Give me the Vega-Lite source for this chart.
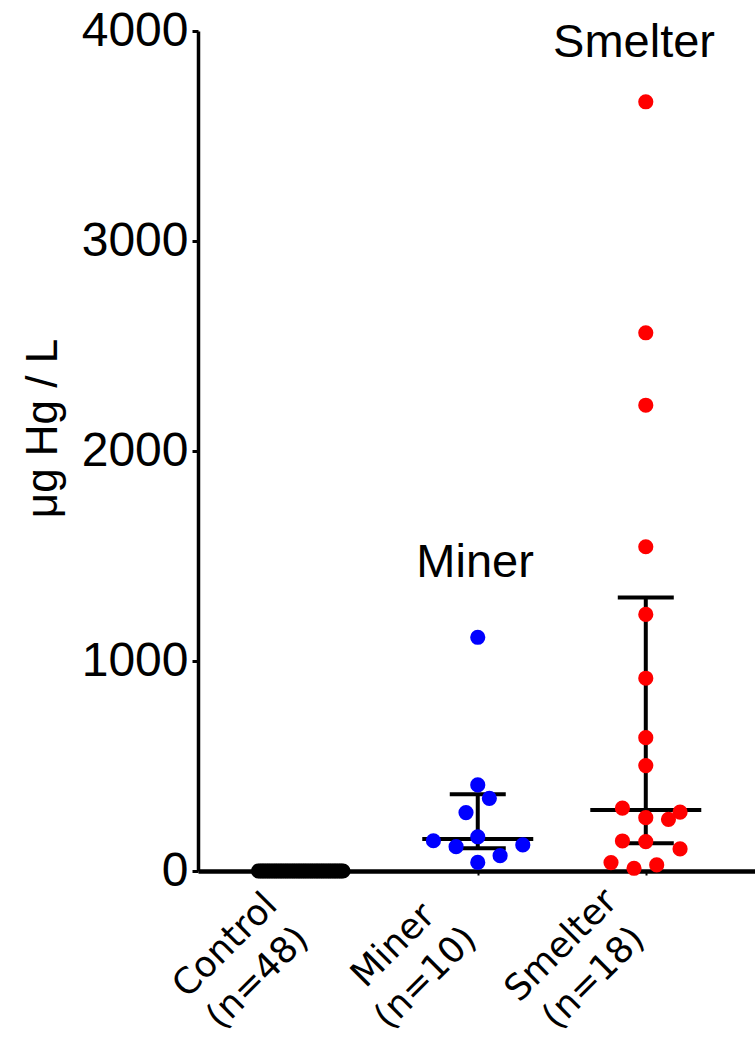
{
  "$schema": "https://vega.github.io/schema/vega-lite/v6.json",
  "autosize": "none",
  "width": 557,
  "height": 840,
  "padding": {"left": 198, "top": 31, "right": 0, "bottom": 170},
  "background": "white",
  "config": {"view": {"stroke": null}},
  "datasets": {
    "points": [
      {"group": "Control", "x": 0.695, "value": 0}, {"group": "Control", "x": 0.706, "value": 0}, {"group": "Control", "x": 0.717, "value": 0}, {"group": "Control", "x": 0.727, "value": 0}, {"group": "Control", "x": 0.738, "value": 0}, {"group": "Control", "x": 0.749, "value": 0}, {"group": "Control", "x": 0.759, "value": 0}, {"group": "Control", "x": 0.770, "value": 0}, {"group": "Control", "x": 0.781, "value": 0}, {"group": "Control", "x": 0.792, "value": 0},
      {"group": "Control", "x": 0.802, "value": 0}, {"group": "Control", "x": 0.813, "value": 0}, {"group": "Control", "x": 0.824, "value": 0}, {"group": "Control", "x": 0.834, "value": 0}, {"group": "Control", "x": 0.845, "value": 0}, {"group": "Control", "x": 0.856, "value": 0}, {"group": "Control", "x": 0.866, "value": 0}, {"group": "Control", "x": 0.877, "value": 0}, {"group": "Control", "x": 0.888, "value": 0}, {"group": "Control", "x": 0.899, "value": 0},
      {"group": "Control", "x": 0.909, "value": 0}, {"group": "Control", "x": 0.920, "value": 0}, {"group": "Control", "x": 0.931, "value": 0}, {"group": "Control", "x": 0.941, "value": 0}, {"group": "Control", "x": 0.952, "value": 0}, {"group": "Control", "x": 0.963, "value": 0}, {"group": "Control", "x": 0.973, "value": 0}, {"group": "Control", "x": 0.984, "value": 0}, {"group": "Control", "x": 0.995, "value": 0}, {"group": "Control", "x": 1.006, "value": 0},
      {"group": "Control", "x": 1.016, "value": 0}, {"group": "Control", "x": 1.027, "value": 0}, {"group": "Control", "x": 1.038, "value": 0}, {"group": "Control", "x": 1.048, "value": 0}, {"group": "Control", "x": 1.059, "value": 0}, {"group": "Control", "x": 1.070, "value": 0}, {"group": "Control", "x": 1.080, "value": 0}, {"group": "Control", "x": 1.091, "value": 0}, {"group": "Control", "x": 1.102, "value": 0}, {"group": "Control", "x": 1.113, "value": 0},
      {"group": "Control", "x": 1.123, "value": 0}, {"group": "Control", "x": 1.134, "value": 0}, {"group": "Control", "x": 1.145, "value": 0}, {"group": "Control", "x": 1.155, "value": 0}, {"group": "Control", "x": 1.166, "value": 0}, {"group": "Control", "x": 1.177, "value": 0}, {"group": "Control", "x": 1.187, "value": 0}, {"group": "Control", "x": 1.198, "value": 0},
      {"group": "Miner", "x": 2.000, "value": 1113}, {"group": "Miner", "x": 2.000, "value": 410}, {"group": "Miner", "x": 2.069, "value": 346}, {"group": "Miner", "x": 1.930, "value": 278}, {"group": "Miner", "x": 2.000, "value": 163},
      {"group": "Miner", "x": 1.736, "value": 144}, {"group": "Miner", "x": 1.871, "value": 116}, {"group": "Miner", "x": 2.268, "value": 124}, {"group": "Miner", "x": 2.133, "value": 73}, {"group": "Miner", "x": 2.000, "value": 41},
      {"group": "Smelter", "x": 3.000, "value": 3663}, {"group": "Smelter", "x": 3.000, "value": 2563}, {"group": "Smelter", "x": 3.000, "value": 2218}, {"group": "Smelter", "x": 3.000, "value": 1544}, {"group": "Smelter", "x": 3.000, "value": 1222}, {"group": "Smelter", "x": 3.000, "value": 918},
      {"group": "Smelter", "x": 3.000, "value": 635}, {"group": "Smelter", "x": 3.000, "value": 502}, {"group": "Smelter", "x": 2.861, "value": 299}, {"group": "Smelter", "x": 3.204, "value": 280}, {"group": "Smelter", "x": 3.000, "value": 254}, {"group": "Smelter", "x": 3.135, "value": 246},
      {"group": "Smelter", "x": 2.861, "value": 143}, {"group": "Smelter", "x": 3.000, "value": 140}, {"group": "Smelter", "x": 3.204, "value": 105}, {"group": "Smelter", "x": 2.793, "value": 40}, {"group": "Smelter", "x": 2.930, "value": 13}, {"group": "Smelter", "x": 3.065, "value": 29}
    ],
    "summary": [
      {"group": "Miner", "x": 2, "q1": 108, "median": 152, "q3": 365},
      {"group": "Smelter", "x": 3, "q1": 132, "median": 290, "q3": 1302}
    ],
    "notes": [
      {"label": "Miner", "x": 1.984, "y": 1400},
      {"label": "Smelter", "x": 2.93, "y": 3876}
    ]
  },
  "encoding": {
    "x": {
      "type": "quantitative",
      "scale": {"domain": [0.335, 3.65], "nice": false, "zero": false},
      "axis": {
        "title": null,
        "values": [1, 2, 3],
        "grid": false,
        "domainColor": "black",
        "domainWidth": 4.5,
        "tickColor": "black",
        "tickSize": 4,
        "tickWidth": 2,
        "labelExpr": "datum.value == 1 ? ['Control', '(n=48)'] : datum.value == 2 ? ['Miner', '(n=10)'] : ['Smelter', '(n=18)']",
        "labelFont": "DejaVu Sans",
        "labelFontSize": 36,
        "labelColor": "black",
        "labelAngle": -45,
        "labelAlign": "center",
        "labelBaseline": "middle",
        "labelOffset": -85,
        "labelPadding": 70,
        "labelLineHeight": 46,
        "labelOverlap": false,
        "labelBound": false,
        "labelFlush": false
      }
    },
    "y": {
      "type": "quantitative",
      "scale": {"domain": [0, 4000], "nice": false},
      "axis": {
        "title": "μg Hg / L",
        "titleFont": "Liberation Sans",
        "titleFontSize": 44,
        "titleFontWeight": "normal",
        "titleColor": "black",
        "titlePadding": 16,
        "titleY": 397,
        "values": [0, 1000, 2000, 3000, 4000],
        "format": "d",
        "grid": false,
        "domainColor": "black",
        "domainWidth": 3.5,
        "tickColor": "black",
        "tickSize": 6,
        "tickWidth": 3,
        "labelFont": "Liberation Sans",
        "labelFontSize": 48,
        "labelColor": "black",
        "labelPadding": 4,
        "labelBound": false,
        "labelFlush": false,
        "labelOverlap": false
      }
    }
  },
  "layer": [
    {
      "data": {"name": "summary"},
      "mark": {"type": "rule", "color": "black", "strokeWidth": 4},
      "encoding": {"x": {"field": "x"}, "y": {"field": "q1"}, "y2": {"field": "q3"}}
    },
    {
      "data": {"name": "summary"},
      "mark": {"type": "tick", "orient": "horizontal", "color": "black", "size": 111, "thickness": 4, "opacity": 1},
      "encoding": {"x": {"field": "x"}, "y": {"field": "median"}}
    },
    {
      "data": {"name": "summary"},
      "mark": {"type": "tick", "orient": "horizontal", "color": "black", "size": 56, "thickness": 4, "opacity": 1},
      "encoding": {"x": {"field": "x"}, "y": {"field": "q1"}}
    },
    {
      "data": {"name": "summary"},
      "mark": {"type": "tick", "orient": "horizontal", "color": "black", "size": 56, "thickness": 4, "opacity": 1},
      "encoding": {"x": {"field": "x"}, "y": {"field": "q3"}}
    },
    {
      "data": {"name": "points"},
      "mark": {"type": "circle", "size": 230, "opacity": 1, "clip": false},
      "encoding": {
        "x": {"field": "x"},
        "y": {"field": "value"},
        "color": {
          "field": "group",
          "type": "nominal",
          "scale": {"domain": ["Control", "Miner", "Smelter"], "range": ["#000000", "#0000ff", "#ff0000"]},
          "legend": null
        }
      }
    },
    {
      "data": {"name": "notes"},
      "mark": {"type": "text", "font": "Liberation Sans", "fontSize": 47, "color": "black", "align": "center", "baseline": "alphabetic"},
      "encoding": {"x": {"field": "x"}, "y": {"field": "y"}, "text": {"field": "label", "type": "nominal"}}
    }
  ]
}
